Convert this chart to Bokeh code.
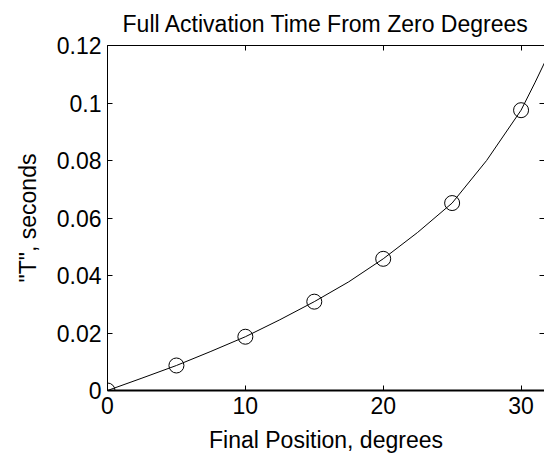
from bokeh.plotting import figure
from bokeh.models import LinearAxis, Range1d, FixedTicker, CustomJSTickFormatter
from bokeh.embed import file_html
from bokeh.resources import INLINE

# Data
pos_deg = [0, 5, 10, 15, 20, 25, 30]
t_sec = [0.0, 0.0087, 0.0187, 0.0309, 0.0458, 0.0652, 0.0975]

curve_x = [0, 2.5, 5, 7.5, 10, 12.5, 15, 17.5, 20, 22.5, 25, 27.5, 30, 31, 32, 33]
curve_y = [0.0, 0.0043, 0.0087, 0.0136, 0.0187, 0.0246, 0.0309, 0.0378, 0.0458,
           0.0550, 0.0652, 0.0800, 0.0975, 0.1070, 0.1170, 0.1280]

x_ticks = [0, 10, 20, 30]
y_ticks = [0, 0.02, 0.04, 0.06, 0.08, 0.1, 0.12]
y_tick_labels = {0: "0", 0.02: "0.02", 0.04: "0.04", 0.06: "0.06", 0.08: "0.08", 0.1: "0.1", 0.12: "0.12"}

FONT = "Liberation Sans"
FS = "23px"

p = figure(width=544, height=460, output_backend="svg", toolbar_location=None,
           x_range=Range1d(0, 31.7), y_range=Range1d(0, 0.12),
           min_border_left=107, min_border_right=0, min_border_top=44, min_border_bottom=70,
           title="Full Activation Time From Zero Degrees")
p.outline_line_color = None
p.grid.visible = False
p.background_fill_color = "white"
p.border_fill_color = "white"

p.title.text_font = FONT
p.title.text_font_size = FS
p.title.text_font_style = "normal"
p.title.text_color = "black"
p.title.align = "center"
p.title.offset = 0
p.title.standoff = 17

p.line(curve_x, curve_y, line_color="black", line_width=1)
p.scatter(pos_deg, t_sec, size=15, marker="circle", fill_color=None, line_color="black", line_width=1)

xa = p.xaxis[0]
xa.ticker = FixedTicker(ticks=x_ticks)
xa.axis_label = "Final Position, degrees"
ya = p.yaxis[0]
ya.ticker = FixedTicker(ticks=y_ticks)
ya.axis_label = '"T", seconds'
ya.major_label_overrides = y_tick_labels

for ax in (xa, ya):
    ax.major_tick_in = 5
    ax.major_tick_out = 0
    ax.minor_tick_in = 0
    ax.minor_tick_out = 0
    ax.axis_line_color = "black"
    ax.major_tick_line_color = "black"
    ax.major_label_text_font = FONT
    ax.major_label_text_font_size = FS
    ax.major_label_text_color = "black"
    ax.axis_label_text_font = FONT
    ax.axis_label_text_font_size = FS
    ax.axis_label_text_font_style = "normal"
    ax.axis_label_text_color = "black"
xa.axis_line_width = 2
xa.major_label_standoff = 6
xa.axis_label_standoff = 10
ya.major_label_standoff = 6
ya.axis_label_standoff = 13

top = LinearAxis(ticker=FixedTicker(ticks=x_ticks), formatter=CustomJSTickFormatter(code="return '';"))
right = LinearAxis(ticker=FixedTicker(ticks=y_ticks), formatter=CustomJSTickFormatter(code="return '';"))
for ax in (top, right):
    ax.major_tick_in = 5
    ax.major_tick_out = 0
    ax.minor_tick_in = 0
    ax.minor_tick_out = 0
    ax.major_label_standoff = 0
    ax.major_label_text_font_size = "0px"
    ax.major_tick_line_color = "black"
top.axis_line_color = "black"
right.axis_line_color = None
p.add_layout(top, "above")
p.add_layout(right, "right")

open("out.html", "w").write(file_html(p, INLINE))
